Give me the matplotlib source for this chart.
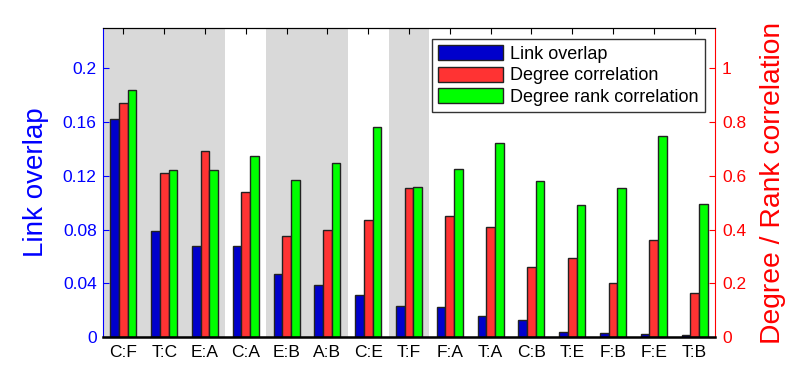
import matplotlib
matplotlib.use("Agg")
import matplotlib.pyplot as plt
import numpy as np

plt.rcParams['font.family'] = ['Liberation Sans', 'DejaVu Sans']

categories = ["C:F", "T:C", "E:A", "C:A", "E:B", "A:B", "C:E", "T:F",
              "F:A", "T:A", "C:B", "T:E", "F:B", "F:E", "T:B"]
link_overlap = [0.162, 0.079, 0.068, 0.068, 0.047, 0.039, 0.031, 0.023,
                0.0225, 0.0155, 0.0125, 0.0035, 0.003, 0.0025, 0.0015]
degree_corr = [0.871, 0.611, 0.694, 0.539, 0.375, 0.400, 0.434, 0.555,
               0.450, 0.411, 0.260, 0.295, 0.202, 0.362, 0.165]
degree_rank_corr = [0.918, 0.620, 0.620, 0.674, 0.585, 0.649, 0.782, 0.559,
                    0.625, 0.722, 0.579, 0.493, 0.553, 0.747, 0.496]
shaded = [1, 1, 1, 0, 1, 1, 0, 1, 0, 0, 0, 0, 0, 0, 0]

fig = plt.figure(figsize=(7.89, 3.80), dpi=100)
ax = fig.add_axes([103/789, 1-337/380, (715-103)/789, (337-28)/380])
ax2 = ax.twinx()

x = np.arange(1, len(categories)+1)
w = 0.213

for xi, s in zip(x, shaded):
    if s:
        ax.axvspan(xi-0.5, xi+0.5, color='#d9d9d9', zorder=0, lw=0)

scale = 5.0
ax.bar(x - w, link_overlap, w, color='#0000cc', edgecolor='#222222', lw=1, zorder=2, label='Link overlap')
ax.bar(x, np.array(degree_corr)/scale, w, color='#ff3333', edgecolor='#222222', lw=1, zorder=2, label='Degree correlation')
ax.bar(x + w, np.array(degree_rank_corr)/scale, w, color='#00ff00', edgecolor='#222222', lw=1, zorder=2, label='Degree rank correlation')

ax.set_xlim(0.5, 15.5)
ax.set_ylim(0, 0.23)
ax2.set_ylim(0, 0.23*scale)

ax.set_xticks(x)
ax.set_xticklabels(categories, fontsize=12.5)
ax.set_yticks([0, 0.04, 0.08, 0.12, 0.16, 0.2])
ax.set_yticklabels(['0', '0.04', '0.08', '0.12', '0.16', '0.2'])
ax2.set_yticks([0, 0.2, 0.4, 0.6, 0.8, 1.0])
ax2.set_yticklabels(['0', '0.2', '0.4', '0.6', '0.8', '1'])

ax.tick_params(axis='x', direction='in', top=True, length=4, colors='black', pad=6)
ax.tick_params(axis='y', direction='in', length=4, colors='blue', labelsize=12.5, labelcolor='blue', pad=4.5)
ax2.tick_params(axis='y', direction='in', length=4, colors='red', labelsize=12.5, labelcolor='red', pad=5)

ax.spines['left'].set_color('blue')
ax.spines['right'].set_visible(False)
ax2.spines['left'].set_visible(False)
ax2.spines['right'].set_color('red')
ax2.spines['top'].set_color('black')
ax2.spines['bottom'].set_color('black')
ax2.spines['bottom'].set_linewidth(1.8)

ax.set_ylabel('Link overlap', color='blue', fontsize=20, labelpad=10)
ax2.set_ylabel('Degree / Rank correlation', color='red', fontsize=20.3, labelpad=10)

leg = ax2.legend(*ax.get_legend_handles_labels(), loc='upper right',
                 bbox_to_anchor=(705/789, 1-39/380), bbox_transform=fig.transFigure,
                 borderaxespad=0, fontsize=13, frameon=True, fancybox=False, edgecolor='black',
                 handlelength=3.6, handleheight=0.9, borderpad=0.35, labelspacing=0.2,
                 handletextpad=0.4)
leg.get_frame().set_linewidth(1.0)

fig.savefig('out.png', dpi=100)
